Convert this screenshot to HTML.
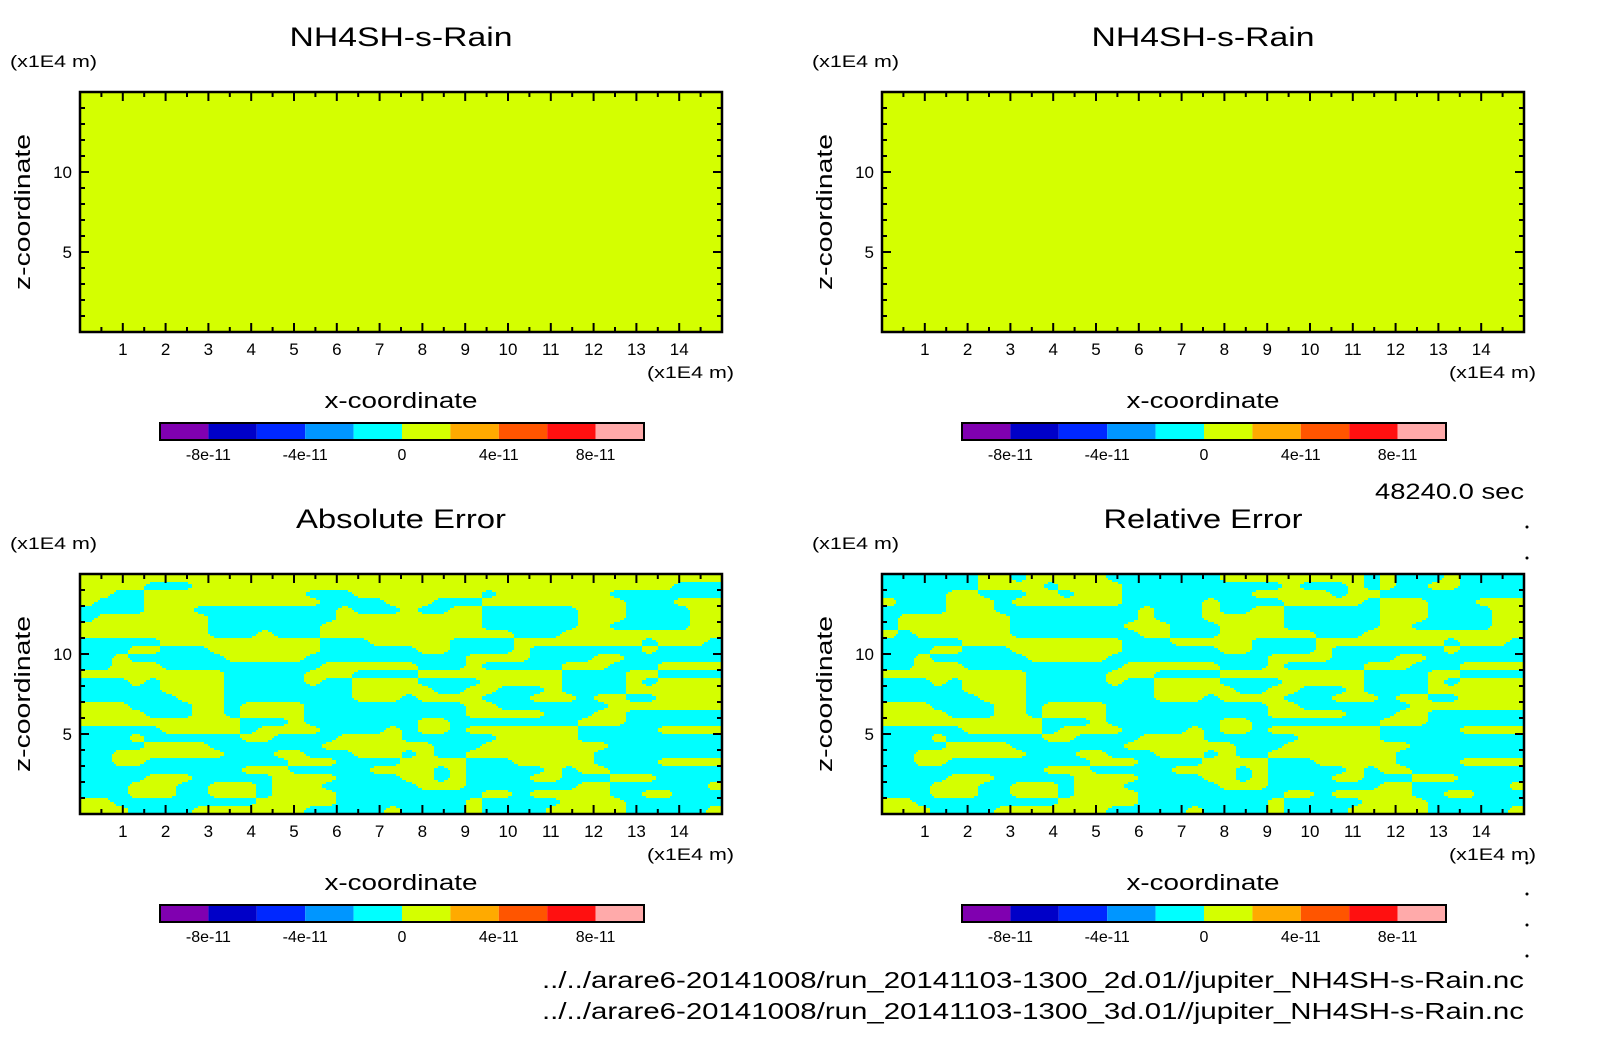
<!DOCTYPE html>
<html><head><meta charset="utf-8"><style>
html,body{margin:0;padding:0;background:#fff;}
svg{display:block;}
text{font-family:"Liberation Sans Narrow","Liberation Sans",sans-serif;fill:#000;}
</style></head><body>
<svg id="fig" width="1604" height="1054" viewBox="0 0 1604 1054" xmlns="http://www.w3.org/2000/svg">
<rect width="1604" height="1054" fill="#fff"/>
<g id="root"></g>
<text x="1524" y="499" font-size="22" text-anchor="end" textLength="149" lengthAdjust="spacingAndGlyphs">48240.0 sec</text>
<text x="1524" y="988" font-size="23" text-anchor="end" textLength="982" lengthAdjust="spacingAndGlyphs">../../arare6-20141008/run_20141103-1300_2d.01//jupiter_NH4SH-s-Rain.nc</text>
<text x="1524" y="1019" font-size="23" text-anchor="end" textLength="982" lengthAdjust="spacingAndGlyphs">../../arare6-20141008/run_20141103-1300_3d.01//jupiter_NH4SH-s-Rain.nc</text>
</svg>
<script>
const titles = ["NH4SH-s-Rain","NH4SH-s-Rain","Absolute Error","Relative Error"];
const titleLens = [223,223,210,199];
const xTicks = [1,2,3,4,5,6,7,8,9,10,11,12,13,14];
const yTicks = [5,10];
const cbColors = ["#8000b0","#0000c8","#0028ff","#0096ff","#00ffff","#d4ff00","#ffaa00","#ff5500","#ff1010","#ffaaaa"];
const cbLevels = [-1e-10,-8e-11,-6e-11,-4e-11,-2e-11,0,2e-11,4e-11,6e-11,8e-11,1e-10];
const cbLabels = ["-8e-11","-4e-11","0","4e-11","8e-11"];
const cbLabelVals = [-8e-11,-4e-11,0,4e-11,8e-11];
// '#' = cyan level (-2e-11..0), '.' = yellow level (0..2e-11); rows top to bottom, left half | right half
const absErr = [
"....................|....................",
"....###.............|.................###",
"..##..........###...|.....#.......#######",
".###...........####.|..###.........###...",
"####...#########.###|.##..######...####..",
"#.......########....|.....######...####..",
"........#######.....|.....######..#####..",
"........###.###.....|.......###..........",
"#####..........###..|...####........#...#",
"###..###.......#####|#..####.#######.####",
"##.######.....######|####....####..######",
"##...##########.....|.###.#####...###....",
".........#####...###|#.........####..####",
"###.#....#####.##...|.####.....####.#....",
"#####....########...|..##..###.####......",
"######...########...|#....###...#..##....",
"...####..#....######|####..#######.......",
"....###..#....######|####.....###..######",
"..........###.######|#..########...######",
"#####.....#....####.|#..#.......#####....",
"###.######..####....|######.....#########",
"####....#######.....|..###........#######",
"##.......###..###...|#.##........########",
"##..#########...####|....###.....####....",
"##########...#####..|..#.#####.#..#######",
"####...#####....####|..#.####..###...####",
"###...##...#...#####|#...#######..######.",
"###...##...#....####|#####..#.....##..###",
"..#########.....####|####.#####....######",
"...####.......#####.|####.####.....#####."];
const relErr = [
"######..#.....######|#.........#.###.####",
"######....#....#####|#####.###.#.##..####",
"####..###..#...#####|###.....#..#########",
".###...#.......#####|.####.....#...###...",
"####...#########.###|.##..######...####..",
"#.......########.###|.....######...####..",
"#.......#######...##|#....######..#####..",
".#......########..##|#......###..........",
"#####..........###..|...####........#...#",
"###..###.......#####|#..####.#######.####",
"##.######.....######|####....####..######",
"##...##########.....|.###.#####...###....",
".........#####...###|#.........####..####",
"###.#....#####.##...|.####.....####.#....",
"#####....########...|..##..###.####......",
"######...########...|#....###...#..##....",
"...####..#....######|####..#######.......",
"....###..#....######|####.....###..######",
"..........###.######|#..########...######",
"#####.....#....####.|#..#.......#####....",
"###.######..####....|######.....#########",
"####....#######.....|..###........#######",
"##.......###..###...|#.##........########",
"##..#########...####|....###.....####....",
"##########...#####..|..#.#####.#..#######",
"####...#####....####|..#.####..###...####",
"###...##...#...#####|#...#######..######.",
"###...##...#....####|#####..#.....##..###",
"..#########.....####|####.#####....######",
"...####.......#####.|####.####.....#####."];
const fields = [null,null,absErr,relErr];

const NS="http://www.w3.org/2000/svg";
const root=document.getElementById('root');
function el(tag,attrs,parent){const e=document.createElementNS(NS,tag);for(const k in attrs)e.setAttribute(k,attrs[k]);(parent||root).appendChild(e);return e;}
const FW=642, FH=240, XMAX=15, YMAX=15;
const offsets=[[80,92],[882,92],[80,574],[882,574]];

offsets.forEach((o,p)=>{
  const [fx,fy]=o;
  const g=el('g',{});
  
  
  const sx=v=>fx+v/XMAX*FW, sy=v=>fy+FH-v/YMAX*FH;
  const bg=el('rect',{x:fx,y:fy,width:FW,height:FH,fill:cbColors[5]},g);
  
  
  const raw=fields[p];
  if(raw){
    const f=raw.map(s=>{const [a,b]=s.split('|');const h=x=>(x+'....................').slice(0,20);return h(a)+h(b);});
    const rows=f.length, cols=40;
    const val=(r,c)=>{r=Math.max(0,Math.min(rows-1,r));c=Math.max(0,Math.min(cols-1,c));return f[r][c]==='#'?1:0;};
    const step=2;
    let d='';
    for(let py=0;py<FH;py+=step){
      const rr=(py+step/2)/FH*rows-0.5;
      const r0=Math.floor(rr), tr=rr-r0;
      const hh=Math.min(step,FH-py);
      let start=-1;
      for(let px=0;px<FW;px+=step){
        const cc=(px+step/2)/FW*cols-0.5;
        const c0=Math.floor(cc), tc=cc-c0;
        const v=(1-tr)*((1-tc)*val(r0,c0)+tc*val(r0,c0+1))+tr*((1-tc)*val(r0+1,c0)+tc*val(r0+1,c0+1));
        const on=v>0.5;
        if(on&&start<0)start=px;
        if(!on&&start>=0){const w=px-start;d+=`M${fx+start} ${fy+py}h${w}v${hh}h${-w}z`;start=-1;}
      }
      if(start>=0){const w=FW-start;d+=`M${fx+start} ${fy+py}h${w}v${hh}h${-w}z`;}
    }
    const path=el('path',{d:d,fill:cbColors[4]},g);
    
    
  }
  const fr=el('rect',{x:fx,y:fy,width:FW,height:FH,fill:'none',stroke:'#000','stroke-width':2.5},g);
  
  
  let td='';
  for(let i=1;i<XMAX*2;i++){const v=i/2;const len=(i%2===0)?9:5;const x=sx(v);td+=`M${x} ${fy}v${len}M${x} ${fy+FH}v${-len}`;}
  for(let v=1;v<YMAX;v++){const len=(v%5===0)?9:5;const y=sy(v);td+=`M${fx} ${y}h${len}M${fx+FW} ${y}h${-len}`;}
  el('path',{d:td,stroke:'#000','stroke-width':2,fill:'none'},g);
  xTicks.forEach(v=>{const t=el('text',{x:sx(v),y:fy+FH+23,'font-size':17,'text-anchor':'middle'},g);t.textContent=v;
    });
  yTicks.forEach(v=>{const t=el('text',{x:fx-8,y:sy(v)+6,'font-size':17,'text-anchor':'end'},g);t.textContent=v;
    });
  const tt=el('text',{x:fx+FW/2,y:fy-46,'font-size':27,'text-anchor':'middle',textLength:titleLens[p],lengthAdjust:'spacingAndGlyphs'},g);tt.textContent=titles[p];
  
  const yu=el('text',{x:fx-70,y:fy-25,'font-size':17,textLength:87,lengthAdjust:'spacingAndGlyphs'},g);yu.textContent='(x1E4 m)';
  
  const xu=el('text',{x:fx+FW+12,y:fy+FH+46,'font-size':17,'text-anchor':'end',textLength:87,lengthAdjust:'spacingAndGlyphs'},g);xu.textContent='(x1E4 m)';
  
  const xt=el('text',{x:fx+FW/2,y:fy+FH+76,'font-size':22,'text-anchor':'middle',textLength:153,lengthAdjust:'spacingAndGlyphs'},g);xt.textContent='x-coordinate';
  
  const yt=el('text',{x:0,y:0,'font-size':22,'text-anchor':'middle',textLength:156,lengthAdjust:'spacingAndGlyphs',transform:`translate(${fx-50},${fy+FH/2}) rotate(-90)`},g);yt.textContent='z-coordinate';
  
  const cx0=fx+80, cw=484, cy=fy+FH+91, ch=17;
  const cs=v=>cx0+(v-cbLevels[0])/(cbLevels[cbLevels.length-1]-cbLevels[0])*cw;
  cbColors.forEach((c,i)=>{const r=el('rect',{x:cs(cbLevels[i]),y:cy,width:cs(cbLevels[i+1])-cs(cbLevels[i]),height:ch,fill:c},g);
    });
  const cb=el('rect',{x:cx0,y:cy,width:cw,height:ch,fill:'none',stroke:'#000','stroke-width':2},g);
  
  cbLabels.forEach((s,i)=>{const t=el('text',{x:cs(cbLabelVals[i]),y:cy+ch+20,'font-size':16,'text-anchor':'middle'},g);t.textContent=s;
    });
});
[527,558,863,894,925,956].forEach(y=>{const c=el('circle',{cx:1527,cy:y,r:1.5,fill:'#000'});
  });
</script>
</body></html>
